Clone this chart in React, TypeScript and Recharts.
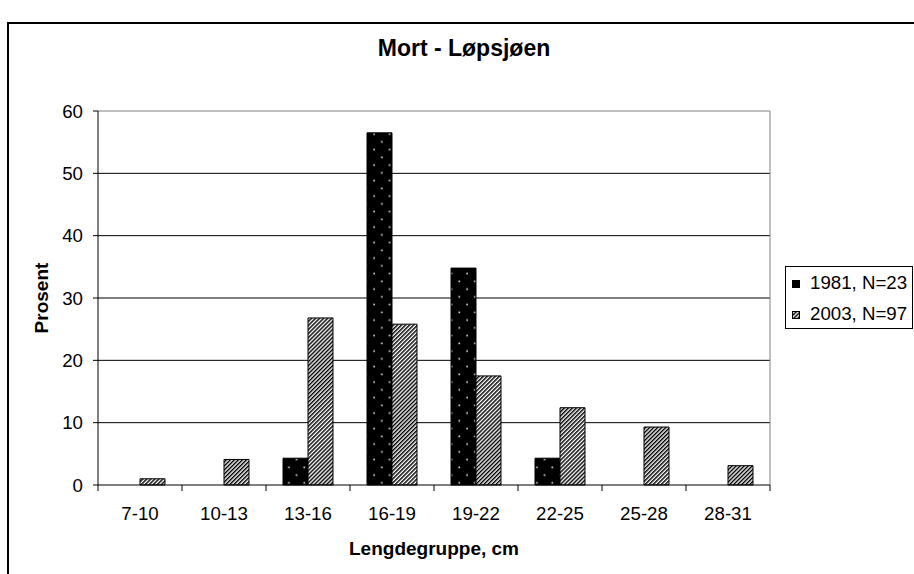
import React from 'react';
import { BarChart, Bar, XAxis, YAxis, CartesianGrid, Legend } from 'recharts';

const categories = ['7-10', '10-13', '13-16', '16-19', '19-22', '22-25', '25-28', '28-31'];
const values1981 = [0, 0, 4.3, 56.5, 34.8, 4.3, 0, 0];
const values2003 = [1.0, 4.1, 26.8, 25.8, 17.5, 12.4, 9.3, 3.1];
const yTicks = [0, 10, 20, 30, 40, 50, 60];
const seriesNames = ['1981, N=23', '2003, N=97'];
const chartTitle = 'Mort - Løpsjøen';
const xTitle = 'Lengdegruppe, cm';
const yTitle = 'Prosent';

const W = 914;
const H = 574;
const MARGIN = { top: 111, right: 144, left: 0, bottom: 0 };
const Y_AXIS_W = 98;
const X_AXIS_H = 89;
const PLOT_RIGHT = W - MARGIN.right;
const PLOT_W = PLOT_RIGHT - Y_AXIS_W;
const FONT = '"Liberation Sans", Arial, Helvetica, sans-serif';
const FS = 18.7;

const data = categories.map((c, i) => ({ cat: c, a: values1981[i], b: values2003[i] }));

function Patterns({ prefix }: { prefix: string }) {
  return (
    <defs>
      <pattern id={`${prefix}dots`} patternUnits="userSpaceOnUse" width={15.5} height={15.5}>
        <rect x={0} y={0} width={15.5} height={15.5} fill="#000" />
        <rect x={1.3} y={9.3} width={1.6} height={1.6} fill="#e6e6e6" />
        <rect x={9.05} y={1.55} width={1.6} height={1.6} fill="#e6e6e6" />
      </pattern>
      <pattern id={`${prefix}hatch`} patternUnits="userSpaceOnUse" width={2.85} height={10} patternTransform="rotate(45)">
        <rect x={0} y={0} width={2.85} height={10} fill="#fff" />
        <rect x={0} y={0} width={1.45} height={10} fill="#000" />
      </pattern>
    </defs>
  );
}

function XTick(props: any) {
  const { x, y, payload, index } = props;
  const band = PLOT_W / categories.length;
  const last = index === categories.length - 1;
  return (
    <g>
      <line x1={x - band / 2} x2={x - band / 2} y1={y} y2={y + 6} stroke="#000" strokeWidth={1} />
      {last && <line x1={x + band / 2} x2={x + band / 2} y1={y} y2={y + 6} stroke="#000" strokeWidth={1} />}
      <text x={x} y={y + 35} textAnchor="middle" fontSize={FS} fill="#000" fontFamily={FONT}>
        {payload.value}
      </text>
    </g>
  );
}

function LegendBox(props: any) {
  const payload = props.payload || [];
  return (
    <div
      style={{
        width: 128,
        height: 63,
        boxSizing: 'border-box',
        border: '1px solid #000',
        background: '#fff',
        padding: '1px 0 0 6px',
        fontFamily: FONT,
        fontSize: FS,
        color: '#000',
      }}
    >
      {payload.map((entry: any, i: number) => (
        <div key={i} style={{ height: 31, display: 'flex', alignItems: 'center' }}>
          <svg width={8} height={8} style={{ marginRight: 10, display: 'block' }}>
            <Patterns prefix={`lg${i}`} />
            <rect
              x={0.5}
              y={0.5}
              width={7}
              height={7}
              fill={i === 0 ? `url(#lg${i}dots)` : `url(#lg${i}hatch)`}
              stroke="#000"
              strokeWidth={1}
            />
          </svg>
          <span style={{ lineHeight: 1, whiteSpace: 'nowrap' }}>{entry.value}</span>
        </div>
      ))}
    </div>
  );
}

const renderYLabel = () => {
  const cy = MARGIN.top + (H - MARGIN.top - X_AXIS_H) / 2;
  const x = 48;
  return (
    <text
      x={x}
      y={cy}
      transform={`rotate(-90, ${x}, ${cy})`}
      textAnchor="middle"
      fontSize={19}
      fontWeight="bold"
      fill="#000"
      fontFamily={FONT}
    >
      {yTitle}
    </text>
  );
};

const renderXLabel = () => {
  const cx = Y_AXIS_W + PLOT_W / 2;
  const y = H - X_AXIS_H + 70;
  return (
    <text x={cx} y={y} textAnchor="middle" fontSize={19} fontWeight="bold" fill="#000" fontFamily={FONT}>
      {xTitle}
    </text>
  );
};

export default function App() {
  return (
    <div
      style={{
        position: 'absolute',
        left: 0,
        top: 0,
        width: W,
        height: H,
        overflow: 'hidden',
        background: '#fff',
        fontFamily: FONT,
      }}
    >
      <div
        style={{
          position: 'absolute',
          left: 7,
          top: 22,
          width: 1000,
          height: 700,
          border: '2px solid #000',
          boxSizing: 'border-box',
        }}
      />
      <div style={{ position: 'absolute', left: 0, top: 0 }}>
        <BarChart width={W} height={H} data={data} margin={MARGIN} barGap={0}>
          <Patterns prefix="c" />
          <CartesianGrid vertical={false} horizontalValues={[10, 20, 30, 40, 50]} stroke="#000" strokeWidth={1} />
          <CartesianGrid
            horizontalValues={[60]}
            verticalPoints={[PLOT_RIGHT]}
            stroke="#808080"
            strokeWidth={1}
          />
          <XAxis
            dataKey="cat"
            height={X_AXIS_H}
            interval={0}
            tickLine={false}
            tickSize={0}
            tickMargin={0}
            axisLine={{ stroke: '#000', strokeWidth: 1 }}
            tick={(p: any) => <XTick {...p} />}
            label={renderXLabel}
          />
          <YAxis
            width={Y_AXIS_W}
            domain={[0, 60]}
            ticks={yTicks}
            interval={0}
            tickSize={5}
            tickMargin={10}
            axisLine={{ stroke: '#000', strokeWidth: 1 }}
            tickLine={{ stroke: '#000', strokeWidth: 1 }}
            tick={{ fontSize: FS, fill: '#000', fontFamily: FONT }}
            label={renderYLabel}
          />
          <Legend
            layout="vertical"
            align="center"
            verticalAlign="middle"
            wrapperStyle={{ position: 'absolute', left: 785, top: 266, width: 128, height: 63 }}
            content={(p: any) => <LegendBox {...p} />}
          />
          <Bar
            dataKey="a"
            name={seriesNames[0]}
            fill="url(#cdots)"
            stroke="#000"
            strokeWidth={1}
            barSize={25}
            isAnimationActive={false}
          />
          <Bar
            dataKey="b"
            name={seriesNames[1]}
            fill="url(#chatch)"
            stroke="#000"
            strokeWidth={1}
            barSize={25}
            isAnimationActive={false}
          />
        </BarChart>
      </div>
      <svg width={W} height={90} style={{ position: 'absolute', left: 0, top: 0, pointerEvents: 'none' }}>
        <text x={464} y={56} textAnchor="middle" fontSize={23} fontWeight="bold" fill="#000" fontFamily={FONT}>
          {chartTitle}
        </text>
      </svg>
    </div>
  );
}
